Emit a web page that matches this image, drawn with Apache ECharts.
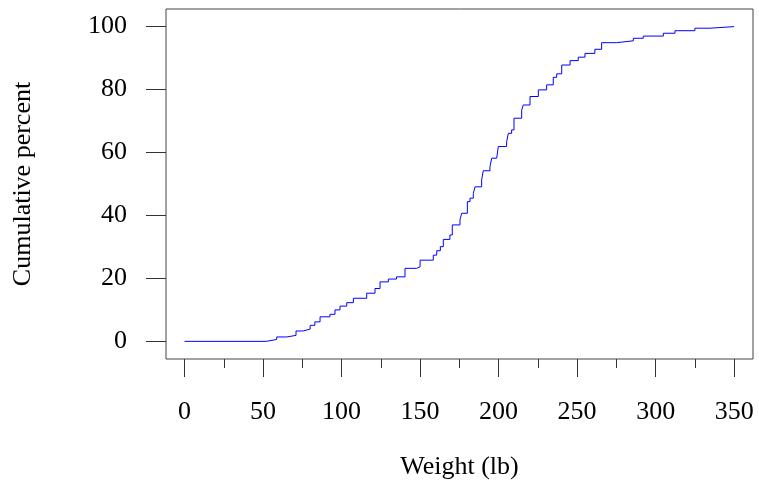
<!DOCTYPE html>
<html>
<head>
<meta charset="utf-8">
<script src="https://cdn.jsdelivr.net/npm/echarts@6/dist/echarts.min.js"></script>
<style>html,body{margin:0;padding:0;background:#fff}#c{width:759px;height:482px}</style>
</head>
<body>
<div id="c"></div>
<script>
// Weight (lb) at each step of the empirical CDF, and cumulative percent after the step
var weights = [0, 52, 58.7, 65, 71, 75.5, 80, 83, 86.3, 92.6, 95.8, 99, 103.3, 107.5, 116, 121.3, 124.5, 129.8, 135, 140.4, 147.8, 150, 158.4, 160.6, 162.9, 164.8, 169, 170.5, 175.4, 176.5, 180.1, 181.8, 183.9, 185.0, 189.2, 190.2, 194.5, 195.6, 198.8, 199.8, 205.1, 206.2, 208.3, 209.8, 214.7, 215.7, 220.0, 225.3, 230.6, 234.8, 237.0, 240.2, 245.5, 250.7, 255.0, 261.3, 265.6, 275.2, 285.8, 292.1, 304.9, 312.3, 325.0, 334.6, 350];
var cumPercent = [0, 0.6, 1.4, 1.9, 3.3, 3.9, 5.1, 6.2, 7.8, 8.6, 10.0, 11.2, 12.3, 13.7, 15.3, 16.8, 18.9, 19.8, 20.5, 23.2, 23.7, 25.8, 27.4, 28.8, 30.1, 32.4, 33.8, 37.0, 38.6, 40.7, 44.4, 45.5, 47.0, 49.1, 51.3, 54.2, 55.5, 58.2, 58.7, 61.9, 63.4, 66.1, 67.2, 70.9, 73.5, 75.1, 77.8, 79.9, 81.5, 83.9, 85.0, 87.8, 89.2, 90.3, 91.5, 92.8, 94.9, 95.5, 96.3, 97.0, 97.9, 98.7, 99.5, 100, 100];
var xMajorTicks = [0, 50, 100, 150, 200, 250, 300, 350];
var xMinorTicks = [25, 75, 125, 175, 225, 275, 325];
var yTicks = [0, 20, 40, 60, 80, 100];

var data = weights.map(function (w, i) { return [w, cumPercent[i]]; });
var font = '"Liberation Serif", "Times New Roman", serif';
var chart = echarts.init(document.getElementById('c'), null, {renderer: 'canvas'});
chart.setOption({
  animation: false,
  grid: {left: 166, top: 9, width: 587, height: 350, show: true, borderColor: '#444', borderWidth: 1, backgroundColor: 'transparent', containLabel: false, outerBoundsMode: 'none'},
  xAxis: [{
    type: 'value', min: -11.8, max: 362, position: 'bottom',
    axisLine: {show: false, onZero: false}, splitLine: {show: false},
    axisTick: {show: true, length: 18, customValues: xMajorTicks, lineStyle: {color: '#333', width: 1}},
    axisLabel: {customValues: xMajorTicks, margin: 40, fontFamily: font, fontSize: 26, color: '#000'},
    name: 'Weight (lb)', nameLocation: 'middle', nameGap: 95,
    nameTextStyle: {fontFamily: font, fontSize: 26, color: '#000'}
  }, {
    type: 'value', min: -11.8, max: 362, position: 'bottom',
    axisLine: {show: false, onZero: false}, splitLine: {show: false},
    axisTick: {show: true, length: 9, customValues: xMinorTicks, lineStyle: {color: '#333', width: 1}},
    axisLabel: {show: false}
  }],
  yAxis: {
    type: 'value', min: -5.6, max: 105.6,
    axisLine: {show: false, onZero: false}, splitLine: {show: false},
    axisTick: {show: true, length: 20, customValues: yTicks, lineStyle: {color: '#333', width: 1}},
    axisLabel: {customValues: yTicks, margin: 39, fontFamily: font, fontSize: 26, color: '#000'},
    name: 'Cumulative percent', nameLocation: 'middle', nameGap: 130,
    nameTextStyle: {fontFamily: font, fontSize: 26, color: '#000'}
  },
  series: [{
    type: 'line', step: 'end', data: data, xAxisIndex: 0,
    showSymbol: false, symbol: 'none',
    lineStyle: {color: '#0000ff', width: 1}
  }]
});
</script>
</body>
</html>
